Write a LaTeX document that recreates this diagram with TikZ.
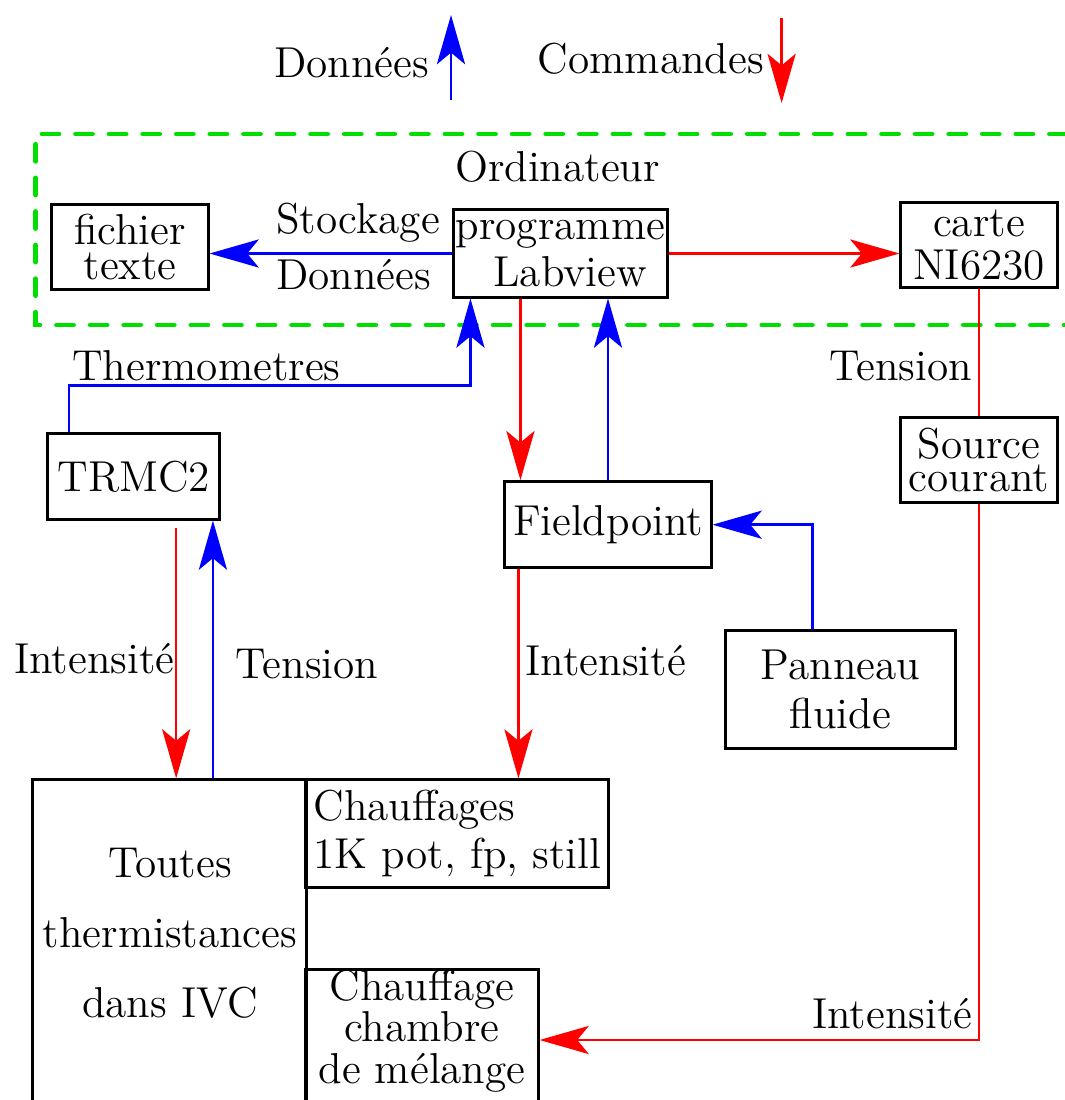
\documentclass[tikz,border=0pt]{standalone}
\usepackage{tikz}
\usetikzlibrary{arrows.meta,positioning,calc}
\definecolor{Vert}{HTML}{00DD00}
\newcommand{\police}[1]{\fontsize{12.3}{#1}\selectfont}

\begin{document}
\begin{tikzpicture}[x=0.01cm,y=-0.01cm,
    >={Stealth[length=14pt,width=8pt,inset=3.3pt]},
    boite/.style={draw,line width=0.85pt,inner sep=0pt,align=center},
    donnee/.style={->,blue,line width=0.7pt},
    commande/.style={->,red,line width=0.65pt},
    etiq/.style={inner sep=0pt,anchor=base west,font=\police{14}}]
  \useasboundingbox (0,0) rectangle (1065,1100);
  \clip (0,0) rectangle (1065,1100);

  % legende
  \node[etiq] (legdonnees) at (273.5,77.3) {Données};
  \coordinate (legdbas) at (451,100);
  \coordinate (legdhaut) at (451,15);
  \draw[donnee] (legdbas) -- (legdhaut);
  \node[etiq] (legcommandes) at (537,73.3) {Commandes};
  \coordinate (legchaut) at (781.6,18);
  \coordinate (legcbas) at (781.6,103);
  \draw[commande] (legchaut) -- (legcbas);

  % ordinateur
  \draw[Vert,line width=1.4pt,line cap=round,dash pattern=on 4.8pt off 4.75pt]
    (1100,134) -- (35.7,134) -- (35.7,325) -- (1100,325);
  \node[etiq] (ordinateur) at (454.4,181.7) {Ordinateur};
  \node[boite,minimum width=1.56cm,minimum height=0.84cm,font=\police{9.7pt}]
    (fichier) at (130,247) {fichier\\texte};
  \node[boite,minimum width=2.13cm,minimum height=0.87cm,font=\police{13.4pt}]
    (programme) at (560.5,253.5) {programme\\\hspace{0.45em}Labview};
  \node[boite,minimum width=1.56cm,minimum height=0.84cm,font=\police{12.2pt}]
    (carte) at (979,245) {carte\\NI6230};
  \node[etiq] (stockage) at (275.5,233) {Stockage};
  \node[etiq] (donnees) at (275.5,289) {Données};
  \draw[donnee] (programme.west) -- (programme.west -| fichier.east);
  \draw[commande] (programme.east) -- (programme.east -| carte.west);

  % appareils
  \node[boite,minimum width=1.72cm,minimum height=0.85cm,font=\police{14pt}]
    (trmc) at (133.7,476.5) {TRMC2};
  \node[boite,minimum width=2.06cm,minimum height=0.86cm,font=\police{14pt}]
    (fieldpoint) at (608,524.7) {Fieldpoint};
  \node[boite,minimum width=1.56cm,minimum height=0.84cm,font=\police{9.4pt}]
    (source) at (979,460) {Source\\courant};
  \node[boite,minimum width=2.29cm,minimum height=1.18cm,font=\police{13.7pt}]
    (panneau) at (840.5,689.5) {Panneau\\fluide};

  % cryostat
  \node[boite,minimum width=2.73cm,minimum height=3.4cm] (thermis) at (169.5,950) {};
  \node[inner sep=0pt,align=center,font=\police{19.9pt}]
    (thermistxt) at (170,933.5) {Toutes\\thermistances\\dans IVC};
  \node[boite,align=left,minimum width=3.03cm,minimum height=1.07cm,font=\police{13.9pt}]
    (chauffages) at (457.3,833.5) {Chauffages\\1K pot, fp, still};
  \node[boite,minimum width=2.32cm,minimum height=1.4cm] (melange) at (422,1040) {};
  \node[inner sep=0pt,align=center,font=\police{11.8pt}]
    (melangetxt) at (422,1031) {Chauffage\\chambre\\de mélange};

  % liaisons
  \draw[donnee] ($(trmc.north west)+(23,0)$) -- ++(0,-47)
    -| ($(programme.south west)+(18,0)$);
  \node[etiq] (thermometres) at (71.4,380) {Thermometres};
  \path ($(programme.south west)+(68,0)$) coordinate (progbas);
  \draw[commande] (progbas) -- (progbas |- fieldpoint.north);
  \draw[donnee] (fieldpoint.north) -- (fieldpoint.north |- programme.south);
  \draw[donnee] ($(panneau.north)+(-28,0)$) |- (fieldpoint.east);
  \draw[red,line width=0.65pt] (carte.south) -- (source.north);
  \node[etiq] (tensionA) at (828.6,380) {Tension};
  \draw[commande] (source.south) |- (melange.east);
  \node[etiq] (intensiteC) at (811.6,1028) {Intensité};
  \path ($(trmc.south west)+(130,0)$) coordinate (trmcbas);
  \draw[commande,shorten <=2pt] (trmcbas) -- (trmcbas |- thermis.north);
  \path ($(thermis.north west)+(181.5,0)$) coordinate (thermishaut);
  \draw[donnee] (thermishaut) -- (thermishaut |- trmc.south);
  \node[etiq] (intensiteA) at (13.6,673) {Intensité};
  \node[etiq] (tensionB) at (235,678) {Tension};
  \path ($(fieldpoint.south west)+(15,0)$) coordinate (fieldbas);
  \draw[commande] (fieldbas) -- (fieldbas |- chauffages.north);
  \node[etiq] (intensiteB) at (525,675) {Intensité};
\end{tikzpicture}
\end{document}
